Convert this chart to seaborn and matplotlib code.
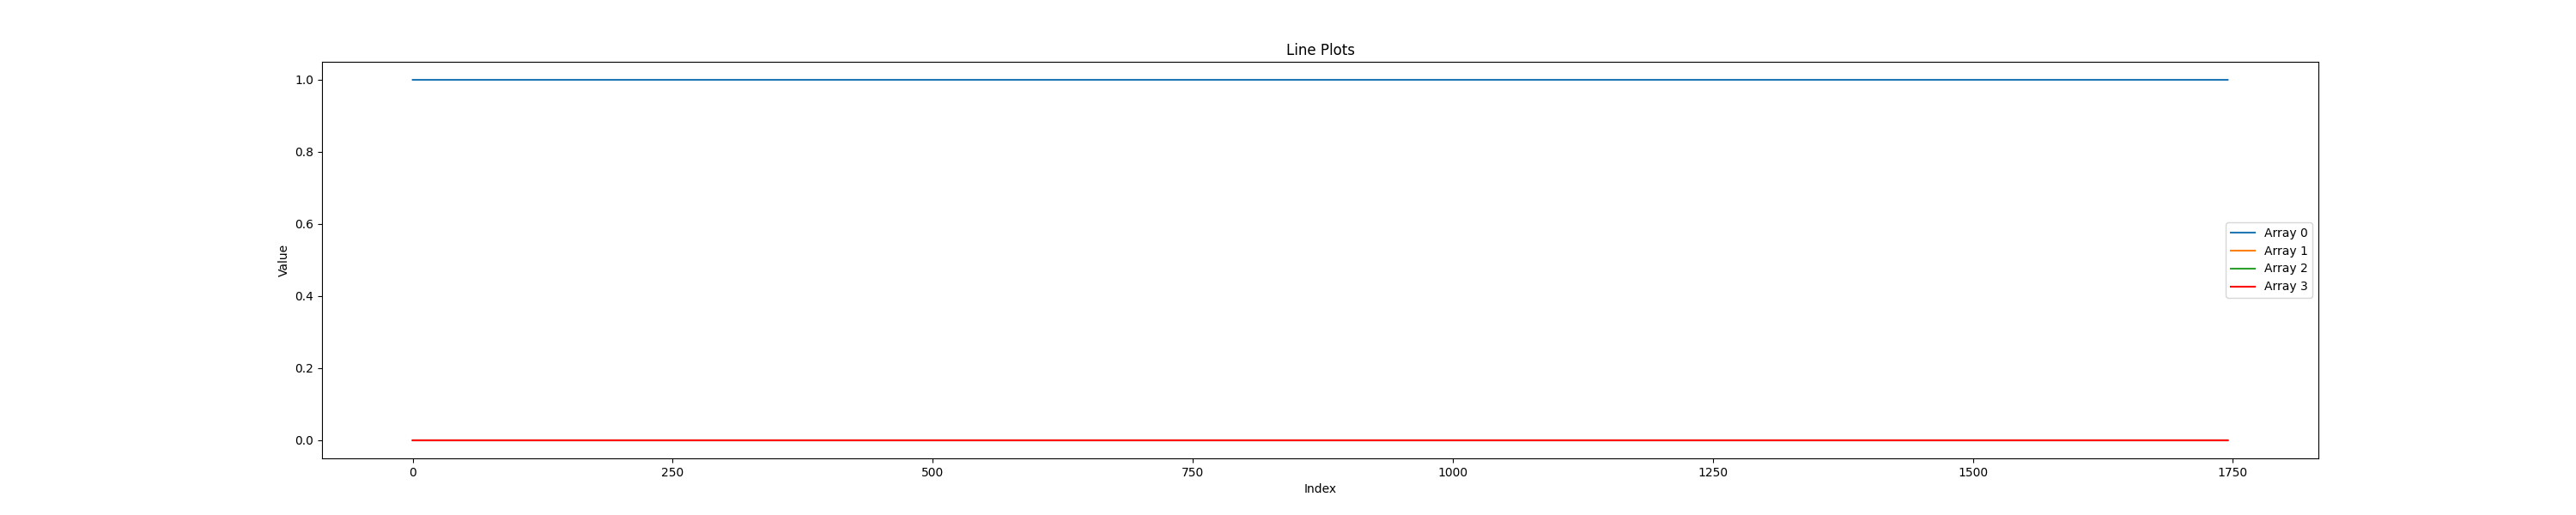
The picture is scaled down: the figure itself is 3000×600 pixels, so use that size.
import numpy as np
import matplotlib
matplotlib.use('Agg')
import matplotlib.pyplot as plt
import seaborn as sns

# four constant series, 1746 samples each
n_points = 1746
array_names = ['Array 0', 'Array 1', 'Array 2', 'Array 3']
array_levels = [1.0, 0.0, 0.0, 0.0]
array_colors = ['#1f77b4', '#ff7f0e', '#2ca02c', 'red']


def main():
    index = np.arange(n_points)
    fig, ax = plt.subplots(figsize=(30, 6), dpi=100)
    for name, level, color in zip(array_names, array_levels, array_colors):
        sns.lineplot(x=index, y=np.full(n_points, level), ax=ax,
                     color=color, label=name)
    ax.set_title('Line Plots')
    ax.set_xlabel('Index')
    ax.set_ylabel('Value')
    ax.legend(loc='center right')
    fig.savefig('out.png')


if __name__ == '__main__':
    main()
